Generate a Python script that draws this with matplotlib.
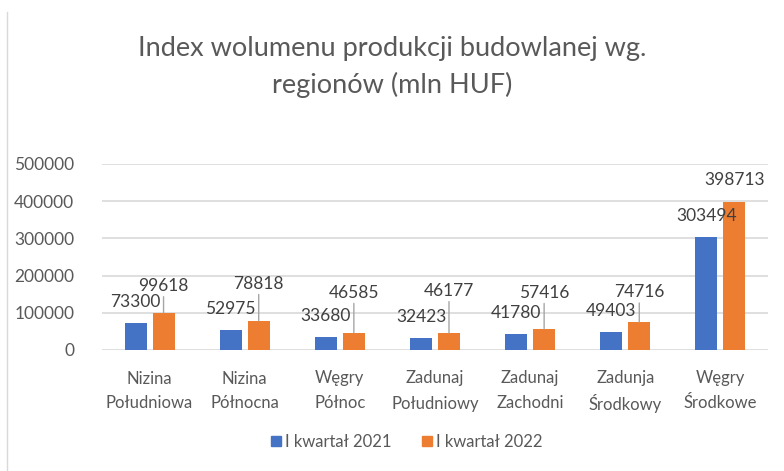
import matplotlib.pyplot as plt
import numpy as np
from matplotlib.lines import Line2D

# data
regions = ['Nizina\nPołudniowa', 'Nizina\nPółnocna', 'Węgry\nPółnoc', 'Zadunaj\nPołudniowy',
           'Zadunaj\nZachodni', 'Zadunja\nŚrodkowy', 'Węgry\nŚrodkowe']
q1_2021 = [73300, 52975, 33680, 32423, 41780, 49403, 303494]
q1_2022 = [99618, 78818, 46585, 46177, 57416, 74716, 398713]
series_names = ['I kwartał 2021', 'I kwartał 2022']
yticks = [0, 100000, 200000, 300000, 400000, 500000]

# label placement for the 2022 labels (pixels above bar top), as Excel moved them
lbl_2022_offset = [27, 37, 40, 42, 36, 30, 22]

blue = '#4472C4'
orange = '#ED7D31'
txt = '#595959'
plt.rcParams['font.family'] = ['Lato', 'DejaVu Sans']

fig = plt.figure(figsize=(7.84, 4.71), dpi=100)
ax = fig.add_axes([102/784, 1-350/471, 666/784, 186/471])

x = np.arange(len(regions))
w = 0.231
off = 0.147
ax.bar(x - off, q1_2021, w, color=blue, zorder=3)
ax.bar(x + off, q1_2022, w, color=orange, zorder=3)

for i in range(len(regions)):
    ax.annotate(str(q1_2021[i]), (x[i] - off, q1_2021[i]), xytext=(0, 21),
                textcoords='offset pixels', ha='center', va='center',
                fontsize=12.5, color='#404040', zorder=5)
    arrow = dict(arrowstyle='-', color='#a6a6a6', lw=1, shrinkA=0, shrinkB=0) if lbl_2022_offset[i] > 25 else None
    ax.annotate(str(q1_2022[i]), (x[i] + off, q1_2022[i]), xytext=(0, lbl_2022_offset[i]),
                textcoords='offset pixels', ha='center', va='center',
                fontsize=12.5, color='#404040', arrowprops=arrow, zorder=5)

ax.set_xlim(-0.5, len(regions) - 0.5)
ax.set_ylim(0, 500000)
ax.set_yticks(yticks)
ax.set_yticklabels([str(v) for v in yticks])
ax.set_xticks(x)
ax.set_xticklabels([])
ax.tick_params(axis='y', length=0, pad=20, labelsize=12.5, labelcolor=txt)
ax.tick_params(axis='x', length=0)
ax.grid(axis='y', color='#d9d9d9', lw=1.2, zorder=0)
for s in ax.spines.values():
    s.set_visible(False)

# category labels, two rows each
trans = ax.get_xaxis_transform()
for i, name in enumerate(regions):
    for j, part in enumerate(name.split('\n')):
        ax.annotate(part, (x[i], 0), xycoords=trans, xytext=(0, -27 - 25 * j),
                    textcoords='offset pixels', ha='center', va='center_baseline',
                    fontsize=12, color=txt)

fig.text(0.5, 1-67/471, 'Index wolumenu produkcji budowlanej wg.\nregionów (mln HUF)',
         ha='center', va='center', fontsize=19.5, color=txt, linespacing=1.5)

handles = [Line2D([], [], marker='s', ls='', color=c, markersize=7) for c in (blue, orange)]
fig.legend(handles, series_names, loc='center', bbox_to_anchor=(405/784, 1-442/471),
           ncol=2, frameon=False, fontsize=12, labelcolor=txt, handletextpad=0.05,
           columnspacing=1.6, handlelength=1.0)

fig.add_artist(Line2D([7/784, 7/784], [0, 1-12/471], color='#d9d9d9', lw=1))

fig.savefig('out.png', dpi=100)
